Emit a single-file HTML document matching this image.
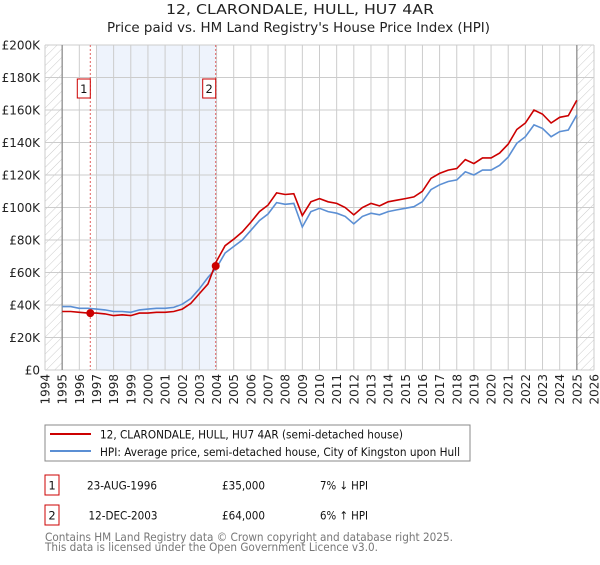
<!DOCTYPE html>
<html><head><meta charset="utf-8"><style>
body{margin:0;background:#fff;font-family:"Liberation Sans","DejaVu Sans",sans-serif;}
svg text{font-family:"DejaVu Sans","Liberation Sans",sans-serif;}
</style></head><body>
<svg id="c" width="600" height="560" viewBox="0 0 600 560">
<defs><pattern id="hatch" width="6" height="6" patternUnits="userSpaceOnUse" patternTransform="rotate(45)"><line x1="0" y1="0" x2="0" y2="6" stroke="#ccc" stroke-width="1"/></pattern></defs>
<text x="300" y="14" text-anchor="middle" font-size="13.5" textLength="268" lengthAdjust="spacingAndGlyphs" fill="#222">12, CLARONDALE, HULL, HU7 4AR</text>
<text x="298.5" y="32" text-anchor="middle" font-size="13.5" textLength="383" lengthAdjust="spacingAndGlyphs" fill="#222">Price paid vs. HM Land Registry's House Price Index (HPI)</text>
<g id="grid"></g><g id="marks"></g><g id="axes"></g>
<rect x="45" y="425" width="425" height="36" fill="#fff" stroke="#888"/>
<line x1="50" y1="434" x2="91" y2="434" stroke="#cc0000" stroke-width="2"/>
<text x="100" y="438.5" font-size="11.5" textLength="303" lengthAdjust="spacingAndGlyphs" fill="#111">12, CLARONDALE, HULL, HU7 4AR (semi-detached house)</text>
<line x1="50" y1="451" x2="91" y2="451" stroke="#5b8fd4" stroke-width="2"/>
<text x="100" y="456" font-size="11.5" textLength="360" lengthAdjust="spacingAndGlyphs" fill="#111">HPI: Average price, semi-detached house, City of Kingston upon Hull</text>
<g font-size="11.5" fill="#111">
<rect x="45" y="475" width="14" height="20" fill="#fff" stroke="#cc0000"/><text x="52" y="489.5" text-anchor="middle">1</text>
<text x="87" y="489.5" textLength="70" lengthAdjust="spacingAndGlyphs">23-AUG-1996</text><text x="222" y="489.5" textLength="43" lengthAdjust="spacingAndGlyphs">£35,000</text><text x="320" y="489.5" textLength="48" lengthAdjust="spacingAndGlyphs">7% ↓ HPI</text></g>
<g font-size="11.5" fill="#111">
<rect x="45" y="505" width="14" height="20" fill="#fff" stroke="#cc0000"/><text x="52" y="519.5" text-anchor="middle">2</text>
<text x="88.5" y="519.5" textLength="69" lengthAdjust="spacingAndGlyphs">12-DEC-2003</text><text x="222" y="519.5" textLength="43" lengthAdjust="spacingAndGlyphs">£64,000</text><text x="320" y="519.5" textLength="48" lengthAdjust="spacingAndGlyphs">6% ↑ HPI</text></g>
<text x="45" y="541" font-size="11.5" textLength="408" lengthAdjust="spacingAndGlyphs" fill="#777">Contains HM Land Registry data © Crown copyright and database right 2025.</text>
<text x="45" y="551" font-size="11.5" textLength="333" lengthAdjust="spacingAndGlyphs" fill="#777">This data is licensed under the Open Government Licence v3.0.</text>
</svg>
<script>
const years=[1995,1995.5,1996,1996.5,1997,1997.5,1998,1998.5,1999,1999.5,2000,2000.5,2001,2001.5,2002,2002.5,2003,2003.5,2004,2004.5,2005,2005.5,2006,2006.5,2007,2007.5,2008,2008.5,2009,2009.5,2010,2010.5,2011,2011.5,2012,2012.5,2013,2013.5,2014,2014.5,2015,2015.5,2016,2016.5,2017,2017.5,2018,2018.5,2019,2019.5,2020,2020.5,2021,2021.5,2022,2022.5,2023,2023.5,2024,2024.5,2025];
const hpi=[39,39,38,38,37.5,37,36,36,35.5,37,37.5,38,38,38.5,40.5,44,50,57,63,72,76,80,86,92,96,103,102,102.5,88,97.5,99.5,97.5,96.5,94.5,90,94.5,96.5,95.5,97.5,98.5,99.5,100.5,103.6,111,114,116,117,122,120,123,123,126,131,139.5,143.6,150.8,148.7,143.6,146.7,147.7,157];
const price=[36,36,35.5,35,35,34.5,33.5,34,33.5,35,35,35.5,35.5,36,37.5,41,47,53,67,76.5,80.5,85,91,97.5,101.5,109,108,108.5,95,103.5,105.5,103.5,102.5,100,95.5,100,102.5,101,103.5,104.5,105.5,106.5,110,118,121,123,124,129.5,127,130.5,130.5,133.5,139,148,152,160,157.5,152,155.5,156.5,166];
const sales=[[1996.64,35],[2003.95,64]];
const yTicks=[0,20,40,60,80,100,120,140,160,180,200];
const NS='http://www.w3.org/2000/svg';
const X0=45,X1=594,Y0=370,Y1=45;
const sx=y=>X0+(y-1994)*(X1-X0)/32, sy=v=>Y0-v*(Y0-Y1)/200;
function el(t,a,p){const e=document.createElementNS(NS,t);for(const k in a)e.setAttribute(k,a[k]);document.getElementById(p).appendChild(e);return e;}
let r=el('rect',{x:sx(1997),y:Y1,width:sx(2003.95)-sx(1997),height:Y0-Y1,fill:'#eef3fc'},'grid');


r=el('rect',{x:X0,y:Y1,width:sx(1995)-X0,height:Y0-Y1,fill:'url(#hatch)'},'grid');


r=el('rect',{x:sx(2025),y:Y1,width:X1-sx(2025),height:Y0-Y1,fill:'url(#hatch)'},'grid');


for(let y=1994;y<=2026;y++){const l=el('line',{x1:sx(y),x2:sx(y),y1:Y1,y2:Y0,stroke:'#ccc'},'grid');


const t=el('text',{x:0,y:0,'font-size':12,fill:'#222','text-anchor':'end',transform:`translate(${sx(y)+4.5},374) rotate(-90)`},'axes');t.textContent=y;

}
yTicks.forEach(v=>{const l=el('line',{x1:X0,x2:X1,y1:sy(v),y2:sy(v),stroke:'#ccc'},'grid');


const t=el('text',{x:40,y:sy(v)+4.5,'font-size':12,fill:'#222','text-anchor':'end'},'axes');t.textContent=v===0?'£0':'£'+v+'K';

});
[1995,2025].forEach(y=>{const l=el('line',{x1:sx(y),x2:sx(y),y1:Y1,y2:Y0,stroke:'#888','stroke-width':1.2},'grid');

});
sales.forEach((s,i)=>{const l=el('line',{x1:sx(s[0]),x2:sx(s[0]),y1:Y1,y2:Y0,stroke:'#e06060','stroke-dasharray':'2,2'},'marks');


const b=el('rect',{x:sx(s[0])-13,y:79,width:13,height:19,fill:'#fff',stroke:'#cc0000'},'marks');


const t=el('text',{x:sx(s[0])-6.5,y:93,'font-size':11.5,fill:'#111','text-anchor':'middle'},'marks');t.textContent=i+1;

});
const pts=a=>a.map((v,i)=>sx(years[i]).toFixed(1)+','+sy(v).toFixed(1)).join(' ');
let p=el('polyline',{points:pts(hpi),fill:'none',stroke:'#5b8fd4','stroke-width':1.6},'marks');


p=el('polyline',{points:pts(price),fill:'none',stroke:'#cc0000','stroke-width':1.6},'marks');


sales.forEach(s=>{const c=el('circle',{cx:sx(s[0]),cy:sy(s[1]),r:4,fill:'#cc0000'},'marks');

});
</script>
</body></html>
